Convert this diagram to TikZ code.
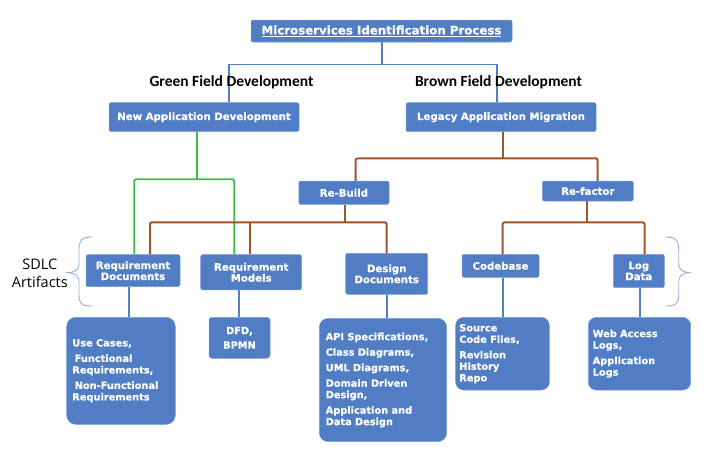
\documentclass[tikz,border=0pt]{standalone}
\usepackage{fontspec}
\setmainfont{DejaVu Sans}[BoldFeatures={FakeBold=0.5}]
\newfontfamily\headfont{Carlito}
\newfontfamily\sidefont{Open Sans}
\definecolor{boxblue}{RGB}{80,125,196}
\definecolor{boxedge}{RGB}{120,158,214}
\definecolor{wireblue}{RGB}{82,128,198}
\definecolor{wiregreen}{RGB}{58,190,74}
\definecolor{wirebrown}{RGB}{160,84,42}
\definecolor{bracecol}{RGB}{150,176,222}
\begin{document}
\begin{tikzpicture}[x=1pt,y=-1pt,
  box/.style={fill=boxblue, draw=boxedge, line width=0.5pt, rounded corners=2pt,
    text=white, align=center, inner sep=0pt,
    font=\bfseries\fontsize{10.2}{11}\selectfont},
  bigbox/.style={box, align=left, rounded corners=9pt,
    font=\bfseries\fontsize{9.8}{11.5}\selectfont},
  headlabel/.style={font=\headfont\bfseries\fontsize{15.5}{17}\selectfont, inner sep=0pt, anchor=base},
  bluewire/.style={draw=wireblue, line width=1.6pt},
  greenwire/.style={draw=wiregreen, line width=1.8pt, rounded corners=1.5pt},
  brownwire/.style={draw=wirebrown, line width=2pt, rounded corners=1.5pt},
  bracestyle/.style={draw=bracecol, line width=0.9pt}
]
\useasboundingbox (0,0) rectangle (716,453);

% ---- title and the two development tracks ----
\node[box, minimum width=261pt, minimum height=22pt,
      font=\bfseries\fontsize{11.8}{13}\selectfont] (title) at (381.5,31)
      {\underline{Microservices Identification Process}};

\coordinate (busT) at (382,64.3);
\coordinate (busL) at (229,64.3);
\coordinate (busR) at (496.7,64.3);

\node[box, minimum width=190pt, minimum height=29pt] (newapp) at (204,117.2) {New Application Development};
\node[box, minimum width=190pt, minimum height=29pt] (legacy) at (501,117.2) {Legacy Application Migration};

\draw[bluewire] (title.south -| busT) -- (busT);
\draw[bluewire] (newapp.north -| busL) -- (busL) -- (busR) -- (legacy.north -| busR);

\node[headlabel] (greenlbl) at (231.5,86.7) {Green Field Development};
\node[headlabel] (brownlbl) at (498.5,86.7) {Brown Field Development};

% ---- migration strategies ----
\node[box, minimum width=90.3pt, minimum height=23.3pt] (rebuild) at (343.9,192.7) {Re-Build};
\node[box, minimum width=91pt, minimum height=20pt] (refactor) at (587.8,191) {Re-factor};

% ---- SDLC artifacts ----
\node[box, minimum width=94pt, minimum height=32pt] (reqdocs) at (133,270.7) {Requirement\\Documents};
\node[box, minimum width=101pt, minimum height=35.3pt] (reqmodels) at (251.2,272.3) {Requirement\\Models};
\node[box, minimum width=82pt, minimum height=41pt] (designdocs) at (386.7,273.8) {Design\\Documents};
\node[box, minimum width=77pt, minimum height=23pt] (codebase) at (500.5,265.8) {Codebase};
\node[box, minimum width=51pt, minimum height=33.4pt] (logdata) at (638.8,271) {Log\\Data};

% ---- concrete sources ----
\node[bigbox, minimum width=108.6pt, minimum height=107pt, text width=97.4pt] (usecases) at (121,370.8)
  {Use Cases,\\[4pt]\hspace*{2.4pt}Functional\\Requirements,\\[4pt]\hspace*{2.4pt}Non-Functional\\Requirements};
\node[box, minimum width=61pt, minimum height=41pt, rounded corners=3pt,
      font=\bfseries\fontsize{9.8}{11.5}\selectfont] (dfd) at (239.5,337.8) {DFD,\\[3pt]BPMN};
\node[bigbox, minimum width=127.4pt, minimum height=123.4pt, text width=114.6pt] (api) at (383,380)
  {API Specifications,\\[4pt]Class Diagrams,\\[4pt]UML Diagrams,\\[4pt]Domain Driven\\Design,\\[4pt]Application and\\Data Design};
\node[bigbox, rounded corners=8pt, minimum width=93.6pt, minimum height=72.7pt, text width=86.4pt] (source) at (502.5,353.7)
  {Source\\Code Files,\\[4pt]Revision\\History\\Repo};
\node[bigbox, rounded corners=8pt, minimum width=102.4pt, minimum height=72.7pt, text width=93.6pt] (weblogs) at (639.5,353.7)
  {Web Access\\Logs,\\[4pt]Application\\Logs};

% ---- green field path ----
\coordinate (gTop) at (197.3,179.3);
\coordinate (gL) at (134.3,179.3);
\coordinate (gR) at (234.3,179.3);
\draw[greenwire] (newapp.south -| gTop) -- (gTop);
\draw[greenwire] (reqdocs.north -| gL) -- (gL) -- (gR) -- (reqmodels.north -| gR);

% ---- brown field path ----
\coordinate (bM) at (503.3,158.3);
\coordinate (bL) at (355.7,158.3);
\coordinate (bR) at (597.7,158.3);
\draw[brownwire] (legacy.south -| bM) -- (bM);
\draw[brownwire] (rebuild.north -| bL) -- (bL) -- (bR) -- (refactor.north -| bR);

\coordinate (rM) at (345,222.3);
\coordinate (r1) at (150,222.3);
\coordinate (r2) at (249.7,222.3);
\coordinate (r3) at (386.7,222.3);
\draw[brownwire] (rebuild.south -| rM) -- (rM);
\draw[brownwire] (reqdocs.north -| r1) -- (r1) -- (r3) -- (designdocs.north -| r3);
\draw[brownwire] (r2) -- (reqmodels.north -| r2);

\coordinate (fM) at (587.3,222.3);
\coordinate (f1) at (502.7,222.3);
\coordinate (f2) at (644.5,222.3);
\draw[brownwire] (refactor.south -| fM) -- (fM);
\draw[brownwire] (codebase.north -| f1) -- (f1) -- (f2) -- (logdata.north -| f2);

% ---- artifacts to their contents ----
\draw[bluewire] ([xshift=-4pt]reqdocs.south) -- ([xshift=-4pt]reqdocs.south |- usecases.north);
\draw[bluewire] ([xshift=-12.2pt]reqmodels.south) -- ([xshift=-12.2pt]reqmodels.south |- dfd.north);
\draw[bluewire] (designdocs.south) -- (designdocs.south |- api.north);
\draw[bluewire] ([xshift=2.2pt]codebase.south) -- ([xshift=2.2pt]codebase.south |- source.north);
\draw[bluewire] ([xshift=1.2pt]logdata.south) -- ([xshift=1.2pt]logdata.south |- weblogs.north);

% ---- SDLC artifacts braces ----
\node[font=\sidefont\fontsize{14.5}{17.4}\selectfont, align=center, inner sep=0pt] (sdlc) at (39.8,273.5) {SDLC\\Artifacts};
\draw[bracestyle] (92,237) .. controls (81,237) and (79,241) .. (79,250) -- (79,263)
  .. controls (79,270) and (75,272.7) .. (66,272.7)
  .. controls (75,272.7) and (79,275.5) .. (79,282) -- (79,295)
  .. controls (79,303) and (81,306) .. (92,306);
\draw[bracestyle] (665.7,237) .. controls (676.7,237) and (678.7,241) .. (678.7,250) -- (678.7,263)
  .. controls (678.7,270) and (682.7,272.5) .. (690.5,272.5)
  .. controls (682.7,272.5) and (678.7,275.5) .. (678.7,282) -- (678.7,295)
  .. controls (678.7,303) and (676.7,306) .. (665.7,306);
\end{tikzpicture}
\end{document}
